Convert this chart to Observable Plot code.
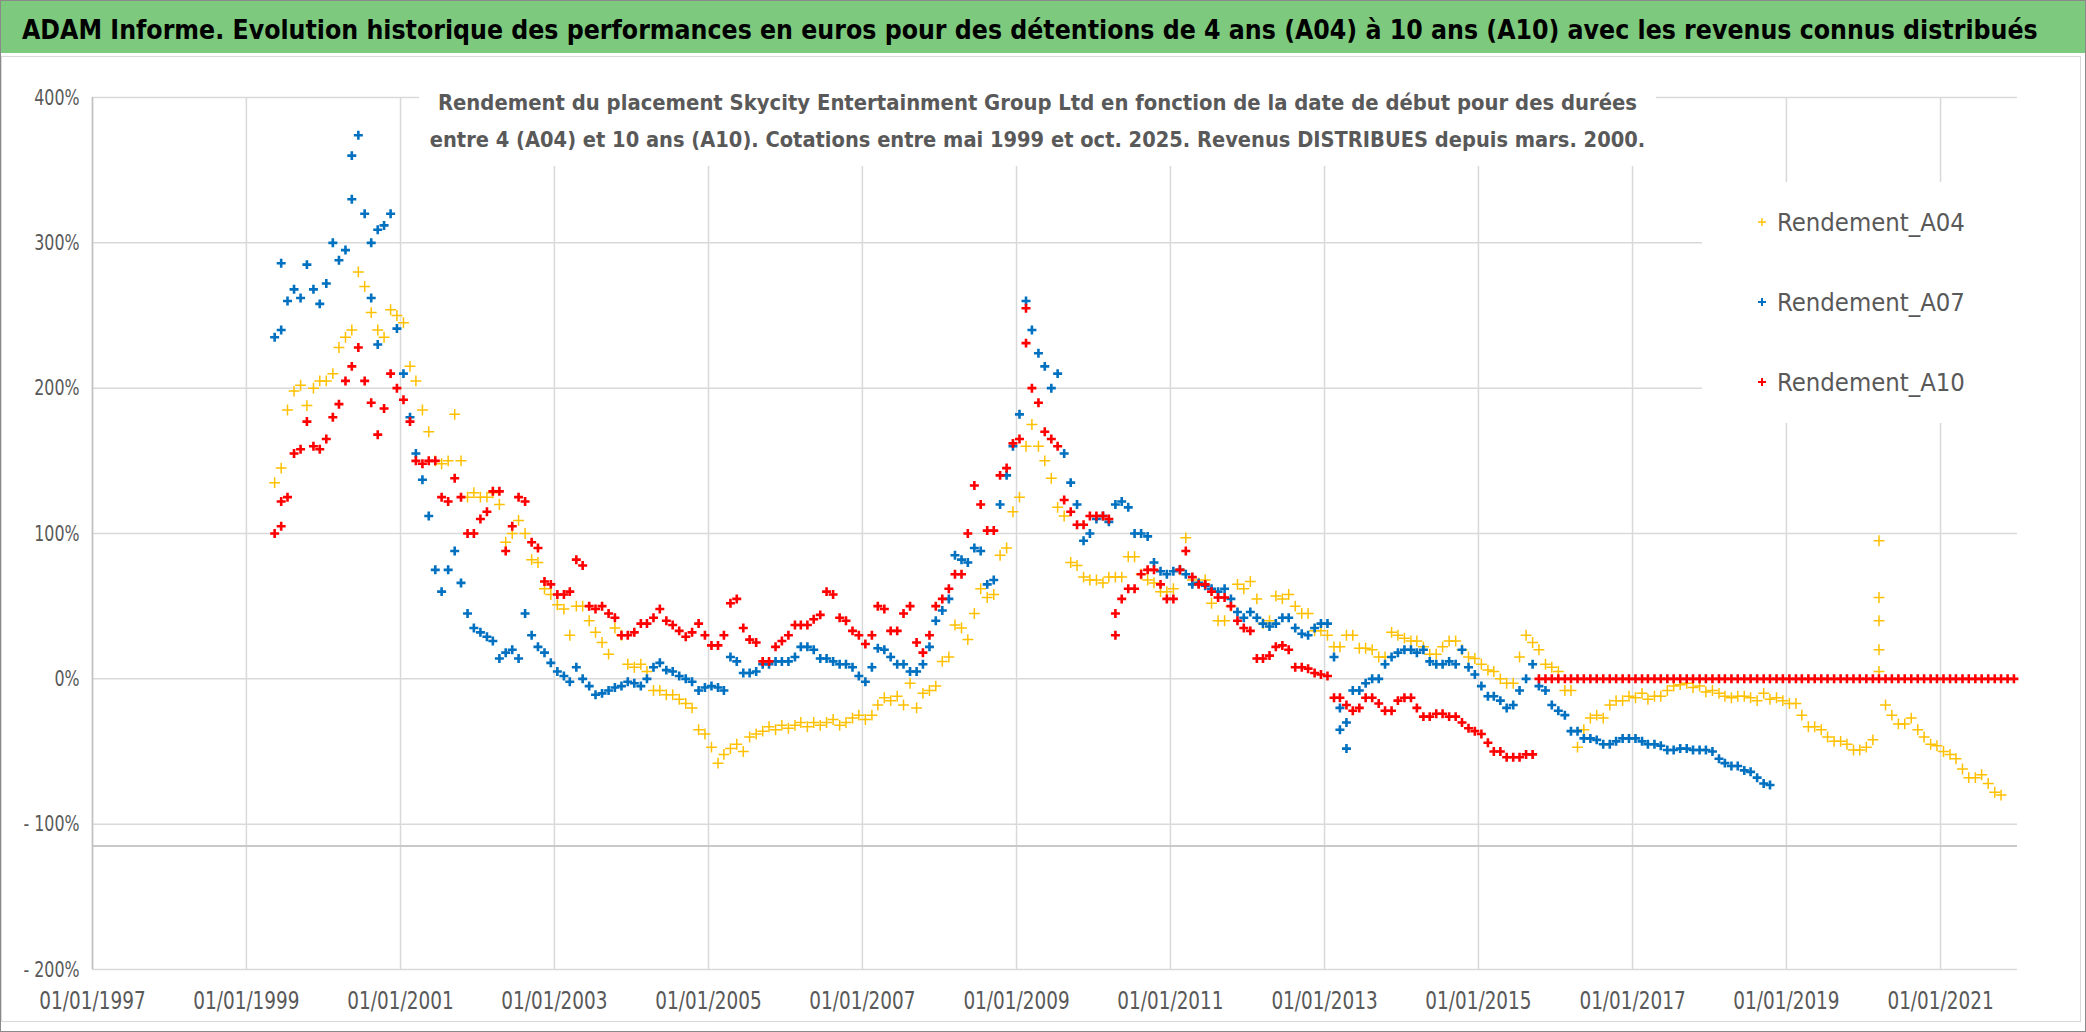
<!DOCTYPE html>
<html><head><meta charset="utf-8">
<script src="https://cdn.jsdelivr.net/npm/d3@7"></script>
<script src="https://cdn.jsdelivr.net/npm/@observablehq/plot@0.6"></script>
<style>
html,body{margin:0;padding:0;background:#fff;}
#wrap{position:relative;width:2086px;height:1032px;overflow:hidden;background:#fff;}
#wrap .abs{position:absolute;}
</style></head><body><div id="wrap"></div>
<script>
const FONT = '"DejaVu Sans Condensed","Liberation Sans",sans-serif';
const TITLE = "ADAM Informe. Evolution historique des performances en euros pour des détentions de 4 ans (A04) à 10 ans (A10) avec les revenus connus distribués";
const SUBTITLE = [
  "Rendement du placement Skycity Entertainment Group Ltd en fonction de la date de début pour des durées",
  "entre 4 (A04) et 10 ans (A10). Cotations entre mai 1999 et oct. 2025. Revenus DISTRIBUES depuis mars. 2000."
];
const SERIES = ["Rendement_A04", "Rendement_A07", "Rendement_A10"];
const COLORS = ["#FFC000", "#0070C0", "#FF0000"];
const X_TICK_YEARS = [1997, 1999, 2001, 2003, 2005, 2007, 2009, 2011, 2013, 2015, 2017, 2019, 2021];
const X_DOMAIN_YEARS = [1997, 2022];
const Y_TICKS = [-200, -100, 0, 100, 200, 300, 400];
const AXIS_CROSS = -115;
// monthly readings (%) starting May 1999; an array = several readings in that month
const A04 = [
  135, 145, 185, 198, 202, 188, 200, 205,
  205, 210, 228, 235, 240, 280, 270, 252, 240, 235, 254, 250,
  245, 215, 205, 185, 170, 150, 148, 150, 182, 150, 125, 128,
  125, 125, 128, 120, 94, 100, 109, 100, 82, 80, 62, 58,
  51, 48, 30, 50, 50, 40, 32, 25, 17, 35, 30, 10,
  8, 10, 5, -8, -8, -11, -11, -14, -17, -20, -35, -38,
  -47, -58, -52, -48, -45, -50, -40, -38, -36, -33, -35, -32,
  -34, -32, -30, -33, -30, -32, -30, -28, -32, -30, -27, -25,
  -28, -25, -18, -13, -15, -12, -18, -3, -20, -10, -8, -5,
  12, 15, 37, 35, 27, 45, 62, 56, 58, 85, 90, 115,
  125, 160, 175, 160, 150, 138, 118, 112, 80, 78, 70, 68,
  68, 66, 70, 70, 70, 84, 84, 72, 68, 66, 60, 60,
  62, 75, 97, 68, 66, 68, 52, 40, 40, 50, 65, 62,
  67, 55, 38, 40, 57, 55, 58, 50, 45, 45, 33, 33,
  30, 22, 22, 30, 30, 21, 21, 20, 15, 15, 32, 30,
  28, 26, 26, 22, 17, 17, 22, 26, 26, 20, 15, 14,
  10, 6, 5, 0, -3, -3, 15, 30, 25, 20, 10, 8,
  5, -8, -8, -47, -35, -27, -25, -27, -18, -15, -15, -12,
  -13, -10, -14, -12, -12, -8, -5, -4, -3, -6, -5, -9,
  -8, -10, -12, -13, -12, -12, -13, -15, -10, -14, -13, -15,
  -17, -17, -25, -33, -33, -35, -40, -43, -43, -45, -49, -49,
  -47, -42, [95, 56, 40, 20, 5], -18, -25, -31, -31, -27, -35, -40, -45, -46,
  -50, -52, -55, -62, -68, -68, -66, -72, -78, -80
];
const A07 = [
  235, [240, 286], 260, 268, 262, 285, 268, 258,
  272, 300, 288, 295, [330, 360], 374, 320, [300, 262], [230, 309], 312, 320, 241,
  210, 180, 155, 137, 112, 75, 60, 75, 88, 66, 45, 35,
  32, 29, 26, 14, 18, 20, 14, 45, 30, 22, 18, 11,
  5, 2, -2, 8, 0, -5, -11, -10, -8, -6, -5, -2,
  -3, -5, 0, 8, 11, 6, 5, 2, 0, -2, -8, -6,
  -5, -6, -8, 15, 12, 4, 4, 5, 10, 10, 12, 12,
  12, 15, 22, 22, 20, 14, 14, 12, 10, 10, 8, 2,
  -2, 8, 21, 20, 15, 10, 10, 5, 5, 10, 22, 40,
  47, 55, 85, 82, 80, 90, 88, 65, 68, 120, 140, 160,
  182, 260, 240, 224, 215, 200, 210, 155, 135, 120, 95, 100,
  110, 112, 108, 120, 122, 118, 100, 100, 98, 80, 74, 72,
  74, 75, 72, 65, 66, 64, 62, 60, 62, 55, 46, 42,
  46, 42, 38, 36, 38, 42, 42, 35, 31, 30, 35, 38,
  38, 15, [-20, -35], [-48, -30], -8, -8, -3, 0, 0, 10, 15, 18,
  20, 20, 18, 20, 12, 10, 10, 12, 10, 20, 8, 3,
  -5, -12, -12, -15, -20, -18, -8, 0, 10, -5, -8, -18,
  -22, -25, -36, -36, -41, -41, -42, -45, -45, -43, -41, -41,
  -41, -43, -45, -45, -46, -49, -49, -48, -48, -49, -49, -49,
  -50, -55, -58, -60, -60, -63, -64, -68, -72, -73
];
const A10 = [
  100, [105, 122], 125, 155, 158, 177, 160, 158,
  165, 180, 189, 205, 215, 228, 205, 190, 168, 186, 210, 200,
  192, 177, 150, 148, 150, 150, 125, 122, 138, 125, 100, 100,
  110, 115, 129, 129, 88, 105, 125, 122, 94, 90, 67, 65,
  58, 58, 60, 82, 78, 50, 48, 50, 45, 42, 30, 30,
  32, 38, 38, 42, 48, 40, 37, 33, 29, 32, 38, 30,
  23, 23, 30, 52, 55, 35, 27, 25, 12, 12, 22, 26,
  30, 37, 37, 37, 41, 44, 60, 58, 42, 40, 33, 30,
  24, 30, 50, 48, 33, 33, 45, 50, 25, 18, 30, 50,
  55, 62, 72, 72, 100, 133, 120, 102, 102, 140, 145, 162,
  165, [231, 255], 200, 190, 170, 165, 160, 123, 115, 106, 106, 112,
  112, 112, 110, [30, 45], 55, 62, 62, 72, 75, 75, 65, 55,
  55, 75, 88, 70, 65, 65, 60, 56, 56, 50, 40, 35,
  33, 14, 14, 16, 22, 23, 20, 8, 8, 7, 4, 3,
  2, -13, -13, -18, -22, -20, -13, -13, -17, -22, -22, -15,
  -13, -13, -20, -26, -26, -24, -24, -26, -26, -30, -34, -36,
  -38, -44, -50, -50, -54, -54, -54, -52, -52, 0, 0, 0,
  0, 0, 0, 0, 0, 0, 0, 0, 0, 0, 0, 0,
  0, 0, 0, 0, 0, 0, 0, 0, 0, 0, 0, 0,
  0, 0, 0, 0, 0, 0, 0, 0, 0, 0, 0, 0,
  0, 0, 0, 0, 0, 0, 0, 0, 0, 0, 0, 0,
  0, 0, 0, 0, 0, 0, 0, 0, 0, 0, 0, 0,
  0, 0, 0, 0, 0, 0, 0, 0, 0, 0, 0, 0
];

function build(name, vals) {
  const out = [];
  vals.forEach((v, i) => {
    const d = new Date(Date.UTC(1999, 4 + i, 15));
    (Array.isArray(v) ? v : [v]).forEach(y => out.push({date: d, value: y, series: name}));
  });
  return out;
}
const data = [build(SERIES[0], A04), build(SERIES[1], A07), build(SERIES[2], A10)];
const xTicks = X_TICK_YEARS.map(y => new Date(Date.UTC(y, 0, 1)));
const xDomain = X_DOMAIN_YEARS.map(y => new Date(Date.UTC(y, 0, 1)));
const yFmt = d => d < 0 ? `- ${-d}%` : `${d}%`;
const GRID = "#d9d9d9";
const MARK_R = [3.6, 3.0, 3.0];
const MARK_W = [1.5, 2.6, 2.6];

const plot = Plot.plot({
  width: 2086, height: 1032,
  marginLeft: 92, marginRight: 69, marginTop: 97, marginBottom: 63,
  style: {fontFamily: FONT, color: "#595959", background: "transparent"},
  x: {type: "utc", domain: xDomain},
  y: {domain: [-200, 400]},
  marks: [
    Plot.gridX(xTicks, {stroke: GRID, strokeOpacity: 1, strokeWidth: 1.5}),
    Plot.gridY(Y_TICKS, {stroke: GRID, strokeOpacity: 1, strokeWidth: 1.5}),
    Plot.ruleY([AXIS_CROSS], {stroke: "#c9c9c9", strokeWidth: 2}),
    Plot.ruleX([xDomain[0]], {stroke: "#c0c0c0", strokeWidth: 1.5}),
    ...data.map((d, i) => Plot.dot(d, {x: "date", y: "value", symbol: "plus", r: MARK_R[i], stroke: COLORS[i], strokeWidth: MARK_W[i]})),
    Plot.axisX(xTicks, {tickSize: 0, tickPadding: 22, tickFormat: d3.utcFormat("%d/%m/%Y"), fontSize: 25, label: null}),
    Plot.axisY(Y_TICKS, {tickSize: 0, tickPadding: 13, tickFormat: yFmt, fontSize: 22, label: null})
  ]
});

// narrow the axis labels horizontally (Calibri-like proportions)
d3.select(plot).selectAll('g[aria-label="x-axis tick label"] text')
  .attr("transform", function() { return (this.getAttribute("transform") || "") + " scale(0.82,1)"; });
d3.select(plot).selectAll('g[aria-label="y-axis tick label"] text')
  .attr("transform", function() { return (this.getAttribute("transform") || "") + " scale(0.8,1)"; });

const wrap = d3.select("#wrap");
wrap.append("div").attr("class", "abs")
  .style("left", "1px").style("top", "56px").style("width", "2078px").style("height", "964px")
  .style("border", "1px solid #d9d9d9");
wrap.append("div").attr("class", "abs").style("left", "0px").style("top", "0px").node().appendChild(plot);

function fit(sel, target) {
  const fs = parseFloat(sel.style("font-size"));
  const w = sel.node().getComputedTextLength();
  if (w > 0) sel.style("font-size", (fs * target / w).toFixed(2) + "px");
}

// header
const hdr = wrap.append("div").attr("class", "abs")
  .style("left", "0px").style("top", "0px").style("width", "2086px").style("height", "53px")
  .style("background", "#7DC97E").style("border-bottom", "2px solid #fff");
const ht = hdr.append("svg").attr("width", 2086).attr("height", 53)
  .append("text").attr("x", 22).attr("y", 39)
  .style("font-family", FONT).style("font-weight", "bold").style("font-size", "34px").attr("fill", "#000")
  .text(TITLE);
fit(ht, 2016);

// subtitle
const sub = wrap.append("div").attr("class", "abs")
  .style("left", "419px").style("top", "76px").style("width", "1237px").style("height", "90px").style("background", "#fff");
const ssvg = sub.append("svg").attr("width", 1237).attr("height", 90);
const subLen = [1200, 1216];
SUBTITLE.forEach((t, i) => {
  const s = ssvg.append("text").attr("x", 618.5).attr("y", 34 + i * 37).attr("text-anchor", "middle")
    .style("font-family", FONT).style("font-weight", "bold").style("font-size", "25px").attr("fill", "#595959")
    .text(t);
  fit(s, subLen[i]);
});

// legend
const leg = wrap.append("div").attr("class", "abs")
  .style("left", "1702px").style("top", "182px").style("width", "315px").style("height", "241px").style("background", "#fff");
const lsvg = leg.append("svg").attr("width", 315).attr("height", 241);
SERIES.forEach((s, i) => {
  const cy = 40 + i * 80;
  lsvg.append("path").attr("d", `M${56},${cy} h8 M${60},${cy - 4} v8`).attr("stroke", COLORS[i]).attr("stroke-width", i === 0 ? 1.4 : 2);
  const t = lsvg.append("text").attr("x", 75).attr("y", cy).attr("dy", "0.36em")
    .style("font-family", FONT).style("font-size", "30px").attr("fill", "#595959").text(s);
  fit(t, 188);
});

wrap.append("div").attr("class", "abs")
  .style("left", "0px").style("top", "0px").style("width", "2084px").style("height", "1030px")
  .style("border", "1px solid #8a8a8a").style("pointer-events", "none");
</script></body></html>
